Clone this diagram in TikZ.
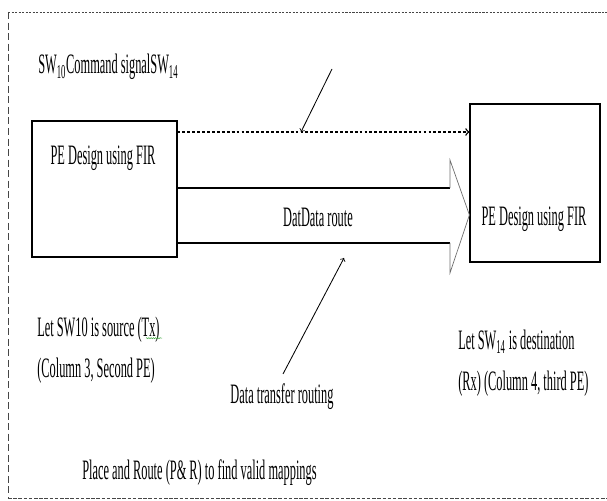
\documentclass[tikz,border=0pt]{standalone}
\usepackage{fontspec}
\setmainfont{Liberation Serif}[FakeStretch=0.44]
\usepackage{xcolor}
\definecolor{Black}{RGB}{0,0,0}
\definecolor{Grey}{RGB}{110,110,110}
\definecolor{Frame}{RGB}{70,70,70}
\definecolor{Green}{RGB}{70,170,70}
\usetikzlibrary{decorations.pathmorphing}

\begin{document}
\begin{tikzpicture}[
		pebox/.style={draw=Black, line width=0.8pt, inner sep=0pt},
		txt/.style={inner sep=0pt, color=Black, font=\fontsize{20}{29.5}\selectfont},
		pointer/.style={->, draw=Black, line width=0.6pt},
	]
		\useasboundingbox (0,0) rectangle (15.175,12.525);
		
		% Frame
		\draw[Frame, line width=0.6pt, dash pattern=on 1.5pt off 1pt] (0.2,12.225) -- (15.175,12.225);
		\draw[Frame, line width=0.6pt, dash pattern=on 5pt off 2.5pt] (0.2,12.225) -- (0.2,0.075);
		\draw[Frame, line width=0.6pt, dash pattern=on 2.5pt off 1.2pt] (0.2,0.075) -- (15.175,0.075);
		
		% Rectangle
		\node[pebox, minimum width=3.625cm, minimum height=3.4cm] (srcBox) at (2.6125,7.8) {};
		\node[pebox, minimum width=3.25cm, minimum height=3.95cm] (dstBox) at (13.375,7.95) {};
		
		% Text
		\node[txt] (srcText) at (2.575,8.575) {PE Design using FIR};
		\node[txt] (dstText) at (13.35,7.05) {PE Design using FIR};
		\node[txt, anchor=west] (cmdText) at (0.95,10.85) {SW\textsubscript{10}Command signalSW\textsubscript{14}};
		\node[txt] (routeText) at (7.95,7.1) {DatData route};
		\node[txt] (transferText) at (7.05,2.6) {Data transfer routing};
		\node[txt, anchor=west, align=left] (srcNote) at (0.925,3.775) {Let SW10 is source (Tx)\\(Column 3, Second PE)};
		\node[txt, anchor=west, align=left] (dstNote) at (11.45,3.45) {Let SW\textsubscript{14} is destination\\(Rx) (Column 4, third PE)};
		\node[txt, anchor=west] (pnrText) at (2.05,0.7) {Place and Route (P\& R) to find valid mappings};
		
		% Lines
		\coordinate (cmdLevel) at (0,9.225);
		\draw[->, line width=1pt, dash pattern=on 2pt off 1.5pt] (srcBox.east |- cmdLevel) -- (dstBox.west |- cmdLevel);
		
		\coordinate (shaftTop) at (0,7.825);
		\coordinate (shaftBot) at (0,6.45);
		\coordinate (tipLevel) at (0,7.15);
		\coordinate (headBack) at (11.25,0);
		\draw[Black, line width=1.2pt] (srcBox.east |- shaftTop) -- (headBack |- shaftTop);
		\draw[Black, line width=1.2pt] (srcBox.east |- shaftBot) -- (headBack |- shaftBot);
		\draw[Grey, line width=0.5pt] (headBack |- shaftTop) -- (11.25,8.525) -- (dstBox.west |- tipLevel) -- (11.25,5.7) -- (headBack |- shaftBot);
		
		% Pointers
		\coordinate (cmdFrom) at (8.3,10.8);
		\coordinate (cmdTo) at (7.525,9.225);
		\draw[pointer] (cmdFrom) -- (cmdTo);
		\coordinate (transferFrom) at (7.075,3.175);
		\coordinate (routeTo) at (8.6,6.075);
		\draw[pointer] (transferFrom) -- (routeTo);
		
		% Squiggle
		\draw[Green, line width=0.4pt, decorate, decoration={snake, amplitude=0.4pt, segment length=1.6pt}] (3.65,4.07) -- (4.05,4.07);
		
	\end{tikzpicture}
\end{document}
